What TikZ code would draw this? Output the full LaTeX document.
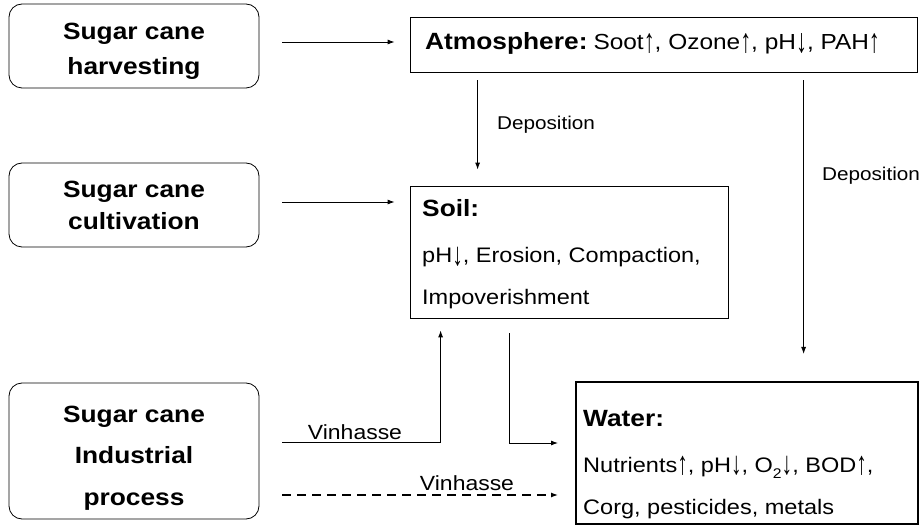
\documentclass[tikz,border=0pt]{standalone}
\usepackage{fontspec}
\usepackage{graphicx}
\setmainfont[FakeStretch=1.12]{Liberation Sans}
\usetikzlibrary{arrows.meta,calc}
\newcommand\myup{\raisebox{-0.12em}{\scalebox{0.9}[1.55]{↑}}}
\newcommand\mydn{\raisebox{-0.12em}{\scalebox{0.9}[1.55]{↓}}}
\tikzset{
  procbox/.style={draw, rounded corners=13pt, line width=0.8pt, minimum width=250pt, inner sep=0pt},
  envbox/.style={draw, line width=0.8pt, inner sep=0pt},
  waterbox/.style={draw, line width=2pt, inner sep=0pt},
  btxt/.style={font=\fontsize{23.5}{27}\selectfont\bfseries, anchor=base, inner sep=0pt},
  ltxt/.style={font=\fontsize{21}{25}\selectfont, anchor=base west, inner sep=0pt},
  lbtxt/.style={font=\fontsize{23.5}{27}\selectfont\bfseries, anchor=base west, inner sep=0pt},
  deptxt/.style={font=\fontsize{18.5}{22}\selectfont, inner sep=0pt},
  vintxt/.style={font=\fontsize{20.5}{24}\selectfont, inner sep=0pt},
  arr/.style={line width=0.9pt, -{Latex[length=7pt,width=5pt]}},
  darr/.style={arr, line width=1.2pt, dash pattern=on 9pt off 6pt}
}
\begin{document}
\begin{tikzpicture}[x=1pt,y=-1pt]
\useasboundingbox (0,0) rectangle (921,526);
% source boxes
\node[procbox, minimum height=84pt] (harv) at (134,46) {};
\node[btxt] (h1) at (134,40) {Sugar cane};
\node[btxt] (h2) at (134,75) {harvesting};
\node[procbox, minimum height=84pt] (cult) at (134,205) {};
\node[btxt] (c1) at (134,198) {Sugar cane};
\node[btxt] (c2) at (134,230) {cultivation};
\node[procbox, minimum height=136pt] (ind) at (134,451) {};
\node[btxt] (i1) at (134,422) {Sugar cane};
\node[btxt] (i2) at (134,463) {Industrial};
\node[btxt] (i3) at (134,505) {process};
% compartments
\node[envbox, minimum width=507pt, minimum height=55pt] (atm) at (663.5,44.5) {};
\node[ltxt, font=\fontsize{21.8}{25}\selectfont] (atmt) at (425,50) {\textbf{\fontsize{23.5}{27}\selectfont Atmosphere:}\hspace{6pt}Soot\myup, Ozone\myup, pH\mydn, PAH\myup};
\node[envbox, minimum width=318pt, minimum height=132pt] (soil) at (569,252) {};
\node[lbtxt] (s1) at (422,217) {Soil:};
\node[ltxt] (s2) at (422,263) {pH\mydn, Erosion, Compaction,};
\node[ltxt] (s3) at (422,305) {Impoverishment};
\node[waterbox, minimum width=342pt, minimum height=142pt] (water) at (747,453) {};
\node[lbtxt] (w1) at (583,426) {Water:};
\node[ltxt] (w2) at (583,472) {Nutrients\myup, pH\mydn, O\raisebox{-0.3em}{\fontsize{14}{14}\selectfont 2}\mydn, BOD\myup,};
\node[ltxt] (w3) at (583,514) {Corg, pesticides, metals};
% connectors
\draw[arr] ($(harv.east)+(23,-4)$) -- ($(harv.east -| atm.west)+(-15,-4)$);
\draw[arr] ($(cult.east)+(23,-3)$) -- ($(cult.east -| soil.west)+(-15,-3)$);
\draw[arr] ($(atm.south west)+(68,8)$) -- ($(atm.south west |- soil.north)+(68,-16)$);
\node[deptxt] (dep1) at (546,125) {Deposition};
\draw[arr] ($(atm.south west)+(394,8)$) -- ($(atm.south west |- water.north)+(394,-27)$);
\node[deptxt] (dep2) at (871,176) {Deposition};
\draw[arr] ($(ind.east)+(23,-9)$) -| ($(soil.south west)+(31,12)$);
\node[vintxt] (vin1) at (355,432) {Vinhasse};
\draw[arr] ($(soil.south west)+(100,15)$) |- ($(water.west)+(-17,-10)$);
\draw[darr] ($(ind.east)+(23,44)$) -- ($(water.west)+(-17,42)$);
\node[vintxt] (vin2) at (467,483) {Vinhasse};
\end{tikzpicture}
\end{document}
